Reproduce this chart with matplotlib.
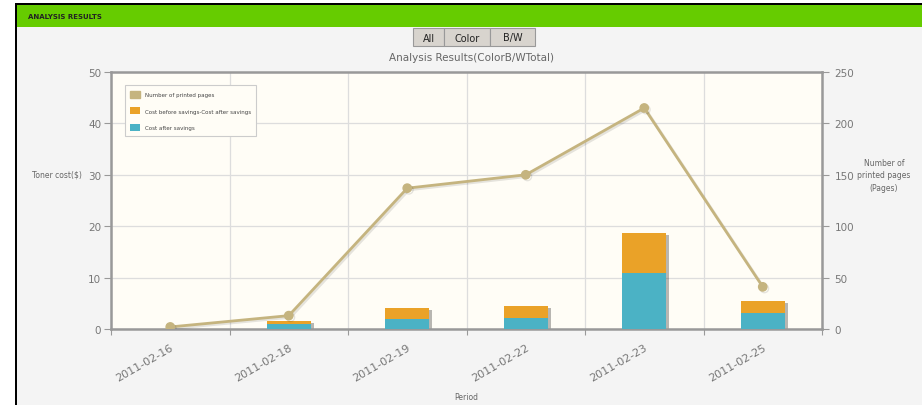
import matplotlib.pyplot as plt
import matplotlib.patheffects as pe
from matplotlib.patches import Rectangle
import numpy as np

# datos
periodos = ["2011-02-16", "2011-02-18", "2011-02-19", "2011-02-22", "2011-02-23", "2011-02-25"]
paginas = [2, 13, 137, 150, 215, 41]
coste_despues = [0, 1.0, 1.95, 2.2, 10.9, 3.2]
coste_diferencia = [0, 0.6, 2.15, 2.3, 7.8, 2.2]

W, H = 922, 406
fig = plt.figure(figsize=(W / 100, H / 100), dpi=100)
fig.patch.set_facecolor("#f4f4f4")


def px(x, y):
    # pixeles (origen arriba-izquierda) -> fraccion de figura
    return x / W, 1 - y / H


def rect(x0, y0, x1, y1, **kw):
    fx0, fy1 = px(x0, y1)
    fig.add_artist(Rectangle((fx0, fy1), (x1 - x0) / W, (y1 - y0) / H,
                             transform=fig.transFigure, **kw))


# marco de la pagina
rect(0, 0, W, 5, facecolor="white", edgecolor="none")
rect(0, 0, 16, H, facecolor="white", edgecolor="none")
rect(16, 4, W, 6, facecolor="black", edgecolor="none")
rect(15, 4, 17, H, facecolor="black", edgecolor="none")
rect(17, 6, W, 28, facecolor="#66cc00", edgecolor="none")
fig.text(*px(28, 17), "ANALYSIS RESULTS", fontsize=5, color="#222222",
         va="center", ha="left", fontweight="bold")

# botones
for etiqueta, x0, x1 in [("All", 413, 444), ("Color", 444, 490), ("B/W", 490, 535)]:
    rect(x0, 29, x1, 47, facecolor="#d8d4ce", edgecolor="#999999", linewidth=0.8)
    fig.text(*px((x0 + x1) / 2, 38.5), etiqueta, fontsize=7, color="#222222",
             ha="center", va="center")

fig.text(*px(471, 58), "Analysis Results(ColorB/WTotal)", fontsize=7.5,
         color="#666666", ha="center", va="center")

ax = fig.add_axes([111 / W, (H - 330) / H, 711 / W, 257 / H])
ax.set_facecolor("#fffdf6")
x = np.arange(len(periodos))
total = np.array(coste_despues) + np.array(coste_diferencia)

# sombra de la pila completa (solo sombra)
ax.bar(x, total, width=0.37, color="#444444", zorder=2,
       path_effects=[pe.SimplePatchShadow(offset=(2.2, -1.6), alpha=0.3)])
b1 = ax.bar(x, coste_despues, width=0.37, color="#4bb2c5", zorder=3,
            label="Cost after savings")
b2 = ax.bar(x, coste_diferencia, width=0.37, bottom=coste_despues, color="#eaa228",
            zorder=3, label="Cost before savings-Cost after savings")

ax.set_xlim(-0.5, len(periodos) - 0.5)
ax.set_ylim(0, 50)
ax.set_yticks(range(0, 51, 10))
ax.set_xticks(np.arange(-0.5, len(periodos), 1), minor=False)
ax.set_xticklabels([])
ax.set_xticks(x, minor=True)
ax.set_xticklabels(periodos, minor=True, rotation=30, ha="right",
                   rotation_mode="anchor", fontsize=8, color="#777777")
ax.tick_params(axis="x", which="major", length=4, color="#999999")
ax.tick_params(axis="x", which="minor", length=0, pad=9)
ax.tick_params(axis="y", length=5, color="#999999", labelcolor="#777777",
               labelsize=7.5, pad=2)
ax.grid(True, which="major", color="#dddddd", linewidth=0.9, zorder=0)
for s in ax.spines.values():
    s.set_color("#999999")
    s.set_linewidth(1.8)

ax2 = ax.twinx()
ax2.set_ylim(0, 250)
ax2.set_yticks(range(0, 251, 50))
linea, = ax2.plot(x, paginas, color="#c5b47f", linewidth=2, marker="o",
                  markersize=6, label="Number of printed pages", zorder=4,
                  path_effects=[pe.SimpleLineShadow(offset=(1.2, -1.2), alpha=0.1),
                                pe.Normal()])
ax2.tick_params(axis="y", length=5, color="#999999", labelcolor="#777777",
                labelsize=7.5, pad=4)
for s in ax2.spines.values():
    s.set_visible(False)

leg = ax2.legend(handles=[Rectangle((0, 0), 1, 1, color="#c5b47f"), b2, b1],
                 labels=["Number of printed pages",
                         "Cost before savings-Cost after savings",
                         "Cost after savings"],
                 loc="upper left", bbox_to_anchor=(0.0155, 0.96), fontsize=4,
                 frameon=True, fancybox=False, edgecolor="#cccccc",
                 facecolor="#fffdf6", framealpha=1, handlelength=1.8,
                 handleheight=1.6, labelspacing=1.7, borderpad=1.0,
                 handletextpad=0.8, labelcolor="#444444")
leg.get_frame().set_linewidth(0.8)

fig.text(*px(57, 175), "Toner cost($)", fontsize=5.5, color="#666666",
         ha="center", va="center")
fig.text(*px(884, 176), "Number of\nprinted pages\n(Pages)", fontsize=5.5,
         color="#666666", ha="center", va="center", linespacing=1.5)
fig.text(*px(466, 398), "Period", fontsize=5.5, color="#666666",
         ha="center", va="center")

fig.savefig("out.png", dpi=100, facecolor=fig.get_facecolor())
